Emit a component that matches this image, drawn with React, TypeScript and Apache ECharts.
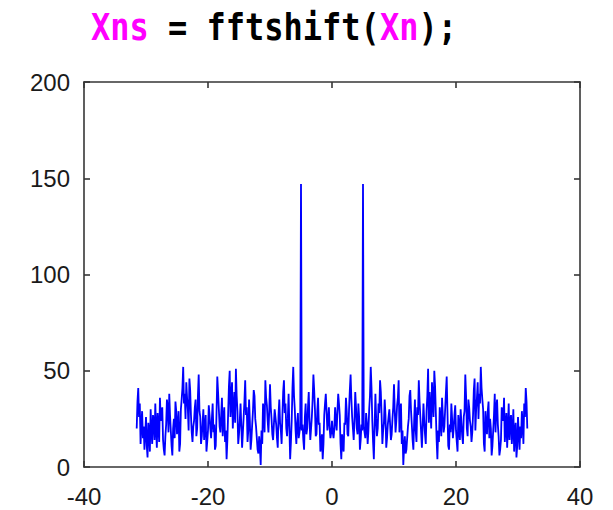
import React, { useEffect, useRef } from "react";
import * as echarts from "echarts";

// Frequency grid of the shifted spectrum (Hz)
const freqStart = -31.5;
const freqStep = 0.125;

// Magnitude |Xns| from -31.5 Hz up to 0 Hz; the spectrum of a real signal is
// symmetric, so the positive-frequency half mirrors these values.
const halfMagnitude = [
  20, 34, 41, 26, 33, 12, 22, 29, 15, 21, 9, 17, 26, 11, 5, 23, 18, 8, 30, 19,
  12, 27, 24, 14, 33, 20, 10, 28, 21, 13, 36, 24, 28, 31, 14, 9, 6, 16, 22, 35,
  31, 18, 38, 27, 19, 11, 6, 20, 25, 15, 34, 29, 17, 22, 29, 8, 12, 30, 35, 41,
  52, 33, 38, 25, 44, 36, 30, 19, 46, 40, 27, 18, 13, 21, 24, 31, 35, 16, 20, 37,
  48, 29, 26, 12, 16, 23, 30, 14, 21, 27, 8, 13, 19, 32, 27, 20, 15, 25, 33, 18,
  22, 9, 11, 28, 47, 39, 30, 21, 18, 27, 36, 16, 24, 31, 13, 19, 4, 14, 28, 42,
  50, 26, 35, 44, 20, 30, 39, 23, 51, 37, 29, 12, 17, 24, 33, 21, 10, 18, 26, 34,
  45, 27, 31, 13, 19, 35, 24, 9, 14, 22, 29, 40, 37, 25, 21, 15, 9, 7, 16, 10,
  1, 19, 12, 33, 27, 18, 45, 36, 32, 24, 18, 29, 43, 31, 25, 17, 14, 22, 30, 26,
  22, 15, 10, 27, 35, 23, 19, 12, 27, 39, 45, 28, 33, 20, 16, 25, 38, 21, 4, 13,
  24, 41, 52, 37, 30, 19, 12, 23, 28, 15, 18, 21, 147, 19, 22, 14, 9, 26, 33, 17,
  20, 31, 39, 24, 14, 20, 26, 35, 48, 40, 30, 16, 17, 29, 36, 22, 23, 8, 11, 17,
  4, 12, 27, 33, 38, 29, 19, 24, 31, 20, 15, 18, 24,
];

const xTicks = { min: -40, max: 40, interval: 20 };
const yTicks = { min: 0, max: 200, interval: 50 };

const magnitude = halfMagnitude.concat(halfMagnitude.slice(0, -1).reverse());
const points = magnitude.map((v, i) => [freqStart + i * freqStep, v]);

const axisColor = "#363636";
const labelFont = {
  color: "#1a1a1a",
  fontFamily: '"Liberation Sans", Arial, sans-serif',
  fontSize: 24,
};

export default function App() {
  const ref = useRef<HTMLDivElement>(null);

  useEffect(() => {
    if (!ref.current) return;
    const chart = echarts.init(ref.current, null, { renderer: "svg" });

    const frame = (show: boolean, margin: number) => ({
      axisLine: { show: true, onZero: false, lineStyle: { color: axisColor, width: 1.6 } },
      axisTick: { show: true, inside: true, length: 6, lineStyle: { color: axisColor, width: 1.6 } },
      splitLine: { show: false },
      axisLabel: { show, margin, ...labelFont },
    });

    chart.setOption({
      animation: false,
      backgroundColor: "#ffffff",
      grid: { left: 84, top: 82, right: 33, bottom: 43, containLabel: false },
      xAxis: [
        { type: "value", position: "bottom", ...xTicks, ...frame(true, 17) },
        { type: "value", position: "top", ...xTicks, ...frame(false, 0) },
      ],
      yAxis: [
        { type: "value", position: "left", ...yTicks, ...frame(true, 14) },
        { type: "value", position: "right", ...yTicks, ...frame(false, 0) },
      ],
      graphic: [
        {
          type: "text",
          left: 91,
          top: 8,
          scaleY: 1.17,
          style: {
            text: "{m|Xns} = fftshift({m|Xn});",
            fill: "#000000",
            fontFamily: '"DejaVu Sans Mono", monospace',
            fontWeight: "bold",
            fontSize: 32,
            rich: {
              m: {
                fill: "#ff00ff",
                fontFamily: '"DejaVu Sans Mono", monospace',
                fontWeight: "bold",
                fontSize: 32,
              },
            },
          },
        },
      ],
      series: [
        {
          type: "line",
          xAxisIndex: 0,
          yAxisIndex: 0,
          data: points,
          showSymbol: false,
          symbol: "none",
          lineStyle: { color: "#0000ff", width: 1.8 },
        },
      ],
    });

    return () => chart.dispose();
  }, []);

  return (
    <div
      ref={ref}
      style={{ position: "fixed", left: 0, top: 0, width: 613, height: 510, background: "#fff" }}
    />
  );
}
